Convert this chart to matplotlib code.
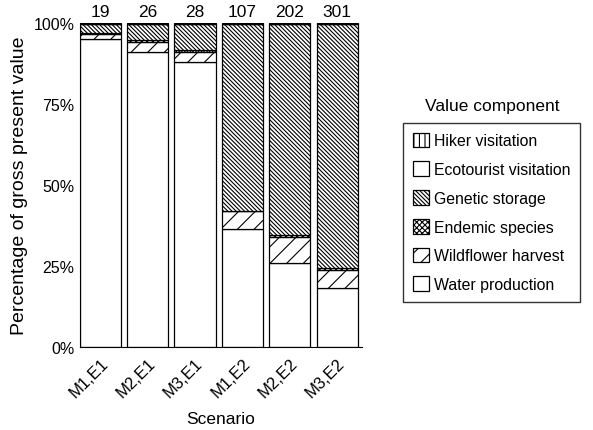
import matplotlib as mpl
mpl.rcParams.update({
    "font.family": ["Liberation Sans", "DejaVu Sans"],
    "hatch.linewidth": 0.8,
})
import matplotlib.pyplot as plt
import numpy as np


scenarios = ['M1,E1', 'M2,E1', 'M3,E1', 'M1,E2', 'M2,E2', 'M3,E2']
totals = ['19', '26', '28', '107', '202', '301']

# percentages of gross present value, bottom to top
water = [95.1, 91.1, 87.9, 36.4, 25.8, 18.1]
wildflower = [1.5, 3.1, 3.1, 5.5, 8.2, 5.8]
endemic = [0.2, 0.6, 0.6, 0.2, 0.6, 0.6]
genetic = [2.8, 4.8, 8.0, 57.5, 65.0, 75.1]
ecotourist = [0.2, 0.2, 0.2, 0.2, 0.2, 0.2]
hiker = [0.2, 0.2, 0.2, 0.2, 0.2, 0.2]

components = [
    ('Water production', water, ''),
    ('Wildflower harvest', wildflower, '//'),
    ('Endemic species', endemic, 'xxxxxx'),
    ('Genetic storage', genetic, '\\' * 8),
    ('Ecotourist visitation', ecotourist, ''),
    ('Hiker visitation', hiker, '|||'),
]


fig = plt.figure(figsize=(5.93, 4.31), dpi=100)
ax = fig.add_axes([0.135, 0.1926, 0.475, 0.7517])

x = np.arange(len(scenarios))
bottom = np.zeros(len(scenarios))
handles = []
for name, values, hatch in components:
    bars = ax.bar(x, values, width=0.87, bottom=bottom, color='white',
                  edgecolor='black', linewidth=0.9, hatch=hatch, label=name)
    bottom += np.array(values)
    handles.append(bars)

for i, label in enumerate(totals):
    ax.text(x[i], 101.2, label, ha='center', va='bottom', fontsize=12.5)

ax.set_xlim(-0.43, 5.52)
ax.set_ylim(0, 100)
ax.set_yticks([0, 25, 50, 75, 100])
ax.set_yticklabels(['0%', '25%', '50%', '75%', '100%'], fontsize=11.5)
ax.set_xticks(x)
ax.set_xticklabels(scenarios, rotation=45, ha='right',
                   rotation_mode='anchor', fontsize=12)
ax.tick_params(length=0, pad=4)
ax.tick_params(axis='x', pad=6)
ax.spines['top'].set_visible(False)
ax.spines['right'].set_visible(False)
ax.set_ylabel('Percentage of gross present value', fontsize=14, labelpad=4)
ax.set_xlabel('Scenario', fontsize=12.5, labelpad=8)

leg = fig.legend(handles[::-1], [c[0] for c in components][::-1],
                 loc='upper left', bbox_to_anchor=(0.680, 0.712),
                 fontsize=11.4, frameon=True, fancybox=False,
                 edgecolor='black', handlelength=1.05, handleheight=1.05,
                 handletextpad=0.3, labelspacing=0.82, borderpad=0.6,
                 borderaxespad=0)
leg.get_frame().set_linewidth(1.0)
fig.text(0.83, 0.754, 'Value component', ha='center', va='center',
         fontsize=12.5)

fig.savefig('out.png', dpi=100)
